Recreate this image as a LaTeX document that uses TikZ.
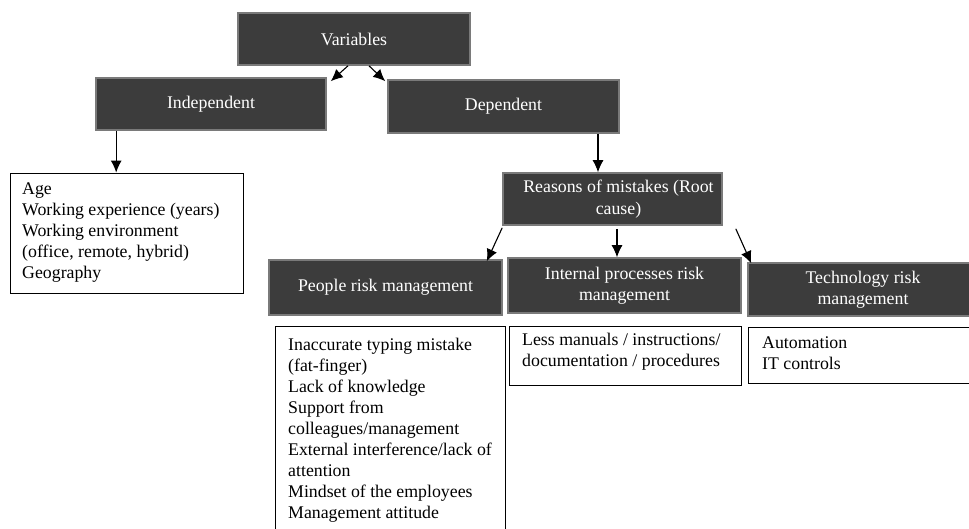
\documentclass[tikz,border=0pt]{standalone}
\usepackage{fontspec}
\setmainfont{Liberation Serif}
\usetikzlibrary{arrows.meta}
\definecolor{boxfill}{HTML}{3C3C3C}
\definecolor{boxedge}{HTML}{7A7A7A}
\begin{document}
\begin{tikzpicture}[x=1pt,y=-1pt,
  darkbox/.style={draw=boxedge, line width=1.6pt, fill=boxfill, text=white, align=center,
    font=\fontsize{17.8}{21.5}\selectfont, inner sep=0pt},
  listbox/.style={draw=black, line width=0.9pt, fill=white, inner sep=0pt},
  listtext/.style={anchor=north west, align=left, inner sep=0pt, font=\fontsize{17.8}{21}\selectfont},
  arr/.style={-{Latex[length=12pt,width=11pt]}, line width=1.1pt, black}]
\useasboundingbox[fill=white] (0,0) rectangle (969,528);

% dark header boxes
\node[darkbox, minimum width=232pt, minimum height=52pt] (var) at (354,39) {Variables};
\node[darkbox, minimum width=230pt, minimum height=52pt] (ind) at (211,104) {Independent};
\node[darkbox, minimum width=231pt, minimum height=53pt] (dep) at (503.5,106.5) {Dependent};
\node[darkbox, minimum width=219pt, minimum height=52pt] (reasons) at (612.5,199) {\hspace*{12pt}Reasons of mistakes (Root\\\hspace*{12pt}cause)};
\node[darkbox, minimum width=233pt, minimum height=55pt] (people) at (385.5,287.5) {People risk management};
\node[darkbox, minimum width=233pt, minimum height=55pt] (internal) at (624.5,285.5) {Internal processes risk\\management};
\node[darkbox, minimum width=230pt, minimum height=53pt] (tech) at (863,289.5) {Technology risk\\management};

% list boxes
\node[listbox, minimum width=233pt, minimum height=120pt] (indlist) at (126.5,233) {};
\node[listbox, minimum width=230pt, minimum height=230pt] (peoplelist) at (390,441) {};
\node[listbox, minimum width=232pt, minimum height=59pt] (intlist) at (625,355.5) {};
\node[listbox, minimum width=232pt, minimum height=56pt] (techlist) at (864,355) {};

% list texts
\node[listtext] (indtxt) at (22,183) {Age\\Working experience (years)\\Working environment\\(office, remote, hybrid)\\Geography};
\node[listtext] (peopletxt) at (288,338) {Inaccurate typing mistake\\(fat-finger)\\Lack of knowledge\\Support from\\colleagues/management\\External interference/lack of\\attention\\Mindset of the employees\\Management attitude};
\node[listtext] (inttxt) at (522,333) {Less manuals / instructions/\\documentation / procedures};
\node[listtext] (techtxt) at (762,337) {Automation\\IT controls};

% arrows
\draw[arr] ([xshift=-6pt]var.south) -- ([xshift=4pt,yshift=-4pt]ind.north east);
\draw[arr] ([xshift=15pt]var.south) -- ([xshift=-2pt,yshift=-2pt]dep.north west);
\draw[arr] ([xshift=21pt]ind.south west) -- ([xshift=21pt]ind.south west |- indlist.north);
\draw[arr] ([xshift=94.5pt]dep.south) -- ([xshift=94.5pt]dep.south |- reasons.north);
\draw[arr] ([yshift=-2pt]reasons.south west) -- ([xshift=-16pt,yshift=-2pt]people.north east);
\draw[arr] ([xshift=4.5pt,yshift=-3pt]reasons.south) -- ([xshift=4.5pt]reasons.south |- internal.north);
\draw[arr] ([xshift=13pt,yshift=-3pt]reasons.south east) -- ([xshift=4pt,yshift=-1pt]tech.north west);
\end{tikzpicture}
\end{document}
